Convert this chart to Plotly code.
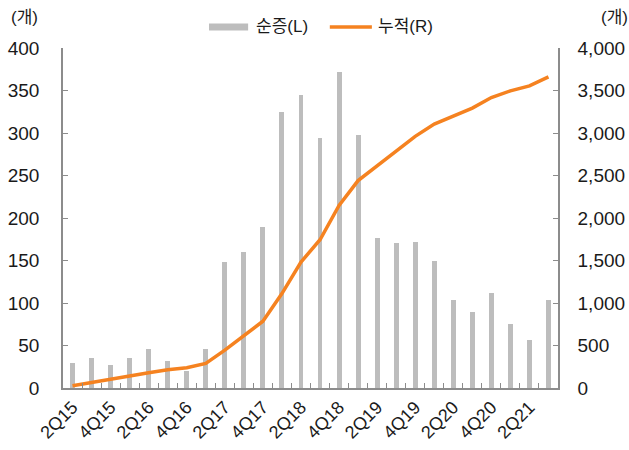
import plotly.graph_objects as go

# Quarterly net additions (left axis) and cumulative total (right axis)
quarters = [
    "2Q15", "3Q15", "4Q15", "1Q16", "2Q16", "3Q16", "4Q16",
    "1Q17", "2Q17", "3Q17", "4Q17", "1Q18", "2Q18", "3Q18", "4Q18",
    "1Q19", "2Q19", "3Q19", "4Q19", "1Q20", "2Q20", "3Q20", "4Q20",
    "1Q21", "2Q21", "3Q21",
]
net_increase = [
    30, 35, 27, 35, 46, 32, 20,
    46, 148, 160, 189, 325, 345, 294, 372,
    298, 177, 171, 172, 150, 104, 90, 112,
    75, 56, 104,
]
cumulative = [
    27, 62, 100, 140, 180, 215, 238,
    290, 446, 615, 786, 1111, 1482, 1744, 2147,
    2440, 2610, 2792, 2960, 3105, 3203, 3293, 3417,
    3496, 3554, 3660,
]
series_names = ["순증(L)", "누적(R)"]
# Every other quarter is labelled on the x axis
tick_text = [q if i % 2 == 0 else "" for i, q in enumerate(quarters)]
left_ticks = list(range(0, 401, 50))
right_ticks = list(range(0, 4001, 500))

BAR_GREY = "#BDBDBD"
ORANGE = "#F58220"
AXIS_GREY = "#8C8C8C"
TEXT = "#1a1a1a"
FONT = "Liberation Sans, Arial, Noto Sans CJK KR, sans-serif"

fig = go.Figure()
fig.add_trace(go.Bar(
    x=quarters, y=net_increase, name=series_names[0],
    marker=dict(color=BAR_GREY, line=dict(width=0)),
    width=0.26, showlegend=False, yaxis="y",
))
fig.add_trace(go.Scatter(
    x=quarters, y=cumulative, mode="lines", name=series_names[1],
    line=dict(color=ORANGE, width=3.5), yaxis="y2", showlegend=False,
))

fig.update_layout(
    width=629, height=450,
    margin=dict(l=63, r=71, t=48, b=62),
    paper_bgcolor="white", plot_bgcolor="white",
    font=dict(family=FONT, color=TEXT, size=18),
    bargap=0,
    xaxis=dict(
        type="category", tickvals=quarters, ticktext=tick_text,
        tickangle=-45, tickson="boundaries", ticks="inside", ticklen=5,
        tickcolor=AXIS_GREY, showline=True, linecolor=AXIS_GREY, linewidth=1.5,
        showgrid=False, tickfont=dict(size=18, color=TEXT),
        range=[-0.5, len(quarters) - 0.5], automargin=False,
    ),
    yaxis=dict(
        range=[0, 400], tickvals=left_ticks, ticks="inside", ticklen=5,
        tickcolor=AXIS_GREY, showline=True, linecolor=AXIS_GREY, linewidth=1.5,
        showgrid=False, zeroline=False, ticklabelstandoff=18,
        tickfont=dict(size=19, color=TEXT), automargin=False,
    ),
    yaxis2=dict(
        overlaying="y", side="right", range=[0, 4000], tickvals=right_ticks,
        tickformat=",", ticks="inside", ticklen=5, tickcolor=AXIS_GREY,
        showline=True, linecolor=AXIS_GREY, linewidth=1.5, showgrid=False,
        zeroline=False, ticklabelstandoff=14, tickfont=dict(size=19, color=TEXT),
        automargin=False,
    ),
)

# Legend row above the plot: a stroke swatch followed by the series name
legend_y = 1.062
legend_items = [
    (series_names[0], BAR_GREY, 7, 0.295, 0.374, 0.386),
    (series_names[1], ORANGE, 3.5, 0.539, 0.624, 0.632),
]
shapes = []
annotations = []
for name, color, width, x0, x1, xt in legend_items:
    shapes.append(dict(type="line", xref="paper", yref="paper",
                       x0=x0, x1=x1, y0=legend_y, y1=legend_y,
                       line=dict(color=color, width=width)))
    annotations.append(dict(text=name, xref="paper", yref="paper",
                            x=xt, y=legend_y, xanchor="left", yanchor="middle",
                            showarrow=False, font=dict(size=17, color=TEXT)))

# Unit labels above both value axes
annotations += [
    dict(text="(개)", xref="paper", yref="paper", x=-0.11, y=1.09,
         xanchor="left", yanchor="middle", showarrow=False,
         font=dict(size=17, color=TEXT)),
    dict(text="(개)", xref="paper", yref="paper", x=1.145, y=1.09,
         xanchor="right", yanchor="middle", showarrow=False,
         font=dict(size=17, color=TEXT)),
]
fig.update_layout(shapes=shapes, annotations=annotations)

fig.write_html("out.html")
